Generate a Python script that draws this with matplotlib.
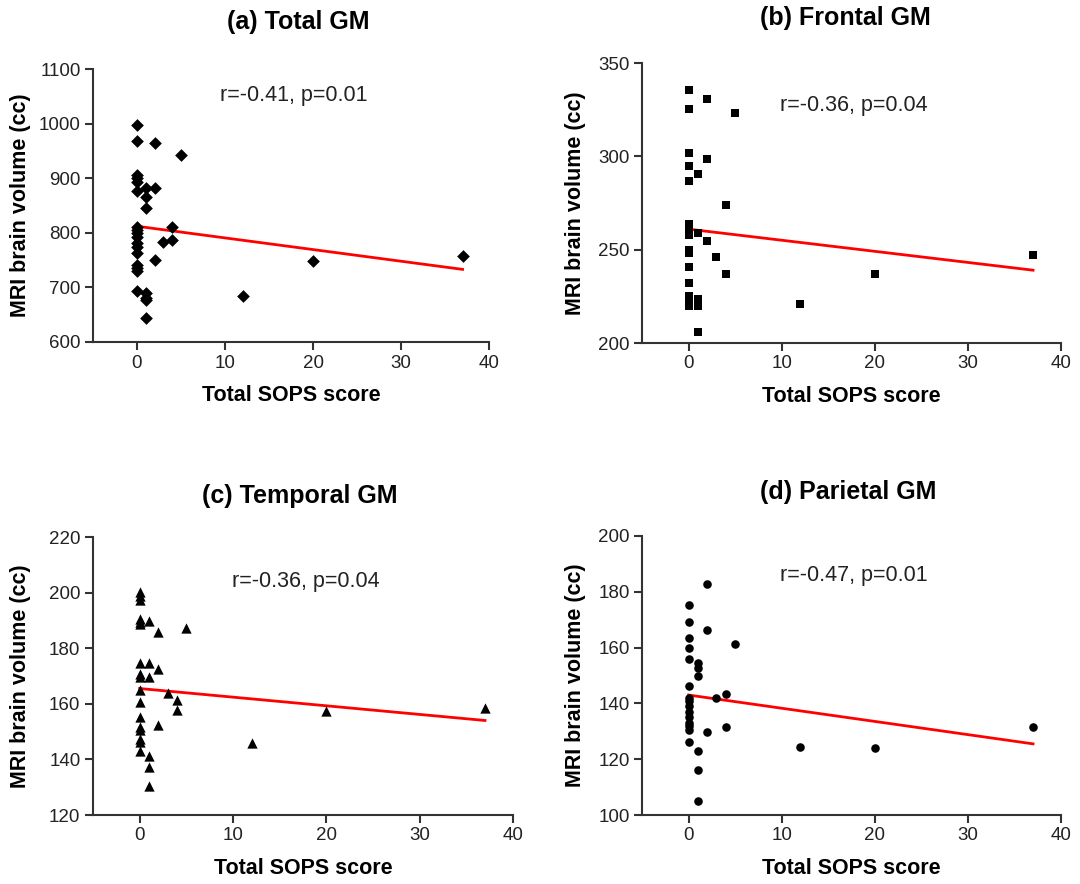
import numpy as np
import matplotlib
matplotlib.use("Agg")
import matplotlib.pyplot as plt

plt.rcParams['font.family'] = ['Liberation Sans', 'DejaVu Sans']

# (a) Total GM
sops_a = [0]*17 + [1]*7 + [2]*3 + [3] + [4]*2 + [5] + [12, 20, 37]
gm_total = [997, 968, 906, 900, 893, 877, 811, 805, 800, 792, 781, 774, 763, 741, 736, 730, 694,
            882, 866, 845, 690, 681, 677, 644,
            965, 882, 750,
            783,
            811, 787,
            942,
            685, 748, 758]
fit_a = [812, 733]

# (b) Frontal GM
sops_b = [0]*17 + [1]*6 + [2]*3 + [3] + [4]*2 + [5] + [12, 20, 37]
gm_frontal = [335.8, 325.4, 301.8, 294.8, 286.6, 263.6, 261.6, 260, 257.9, 250, 248.4, 240.9,
              232.3, 225.4, 224.2, 220, 262.5,
              290.5, 259, 223.8, 222, 220, 205.9,
              330.8, 298.7, 254.7,
              246.2,
              274, 236.7,
              323.3,
              221, 237, 247]
fit_b = [261, 239]

# (c) Temporal GM
sops_c = [0]*17 + [1]*6 + [2]*3 + [3] + [4]*2 + [5] + [12, 20, 37]
gm_temporal = [200.2, 198.7, 197.2, 190.5, 189.3, 188.6, 174.7, 170.8, 169.6, 165, 160.6, 155.2,
               151.6, 150.4, 147.4, 146.2, 143.2,
               189.7, 174.8, 169.6, 141.4, 137.2, 130.6,
               185.8, 172.4, 152.2,
               163.8,
               161.2, 157.8,
               187.3,
               146, 157.5, 158.5]
fit_c = [165.5, 154]

# (d) Parietal GM
sops_d = [0]*15 + [1]*6 + [2]*3 + [3] + [4]*2 + [5] + [12, 20, 37]
gm_parietal = [175.3, 169, 163.6, 160, 155.9, 146.4, 142, 141, 139, 137, 135, 133, 132, 130.5, 126.3,
               154.4, 152.8, 149.9, 123, 116, 105.1,
               182.8, 166.3, 129.6,
               141.9,
               143.4, 131.7,
               161.3,
               124.5, 124, 131.5]
fit_d = [143, 125.5]

fit_x = [0, 37]

panels = [
    ("(a) Total GM", sops_a, gm_total, fit_a, "D", 42, (600, 1100), range(600, 1101, 100),
     "r=-0.41, p=0.01", 1052),
    ("(b) Frontal GM", sops_b, gm_frontal, fit_b, "s", 38, (200, 350), range(200, 351, 50),
     "r=-0.36, p=0.04", 327),
    ("(c) Temporal GM", sops_c, gm_temporal, fit_c, "^", 55, (120, 220), range(120, 221, 20),
     "r=-0.36, p=0.04", 204),
    ("(d) Parietal GM", sops_d, gm_parietal, fit_d, "o", 38, (100, 200), range(100, 201, 20),
     "r=-0.47, p=0.01", 186),
]

# axes boxes in pixels: left, top, right, bottom ; title centre (x, y); ylabel x
boxes = [(93, 69, 489, 342), (642, 63, 1061, 343), (93, 537, 513, 815), (642, 536, 1061, 815)]
title_pos = [(298, 22), (845, 18), (300, 496), (848, 492)]
ylab_x = [31, 586, 31, 586]
W, H = 1080, 884

fig = plt.figure(figsize=(10.8, 8.84), dpi=100)
for (title, xs, ys, fit, mk, ms, ylim, yt, note, note_y), (l, t, r, b), (tx, ty), yx in zip(
        panels, boxes, title_pos, ylab_x):
    ax = fig.add_axes([l / W, 1 - b / H, (r - l) / W, (b - t) / H])
    ax.scatter(xs, ys, marker=mk, s=ms, color='black', linewidths=0, zorder=3)
    ax.plot(fit_x, fit, color='red', lw=2, zorder=2)
    ax.set_xlim(-5, 40)
    ax.set_ylim(*ylim)
    ax.set_xticks([0, 10, 20, 30, 40])
    ax.set_yticks(list(yt))
    for s in ['top', 'right']:
        ax.spines[s].set_visible(False)
    for s in ['left', 'bottom']:
        ax.spines[s].set_color('#333333')
        ax.spines[s].set_linewidth(1.5)
    ax.tick_params(direction='out', length=6, width=1.5, color='#333333',
                   labelsize=13.5, labelcolor='#222222', pad=3)
    ax.set_xlabel("Total SOPS score", fontsize=15.5, fontweight='bold', labelpad=10)
    ax.set_ylabel("MRI brain volume (cc)", fontsize=15.5, fontweight='bold')
    ax.yaxis.set_label_coords((yx - l) / (r - l), 0.5)
    ax.text(17.8, note_y, note, fontsize=15.5, color='#222222', ha='center', va='center')
    fig.text(tx / W, 1 - ty / H, title, fontsize=18, fontweight='bold', ha='center', va='center')

plt.savefig('out.png', dpi=100)
